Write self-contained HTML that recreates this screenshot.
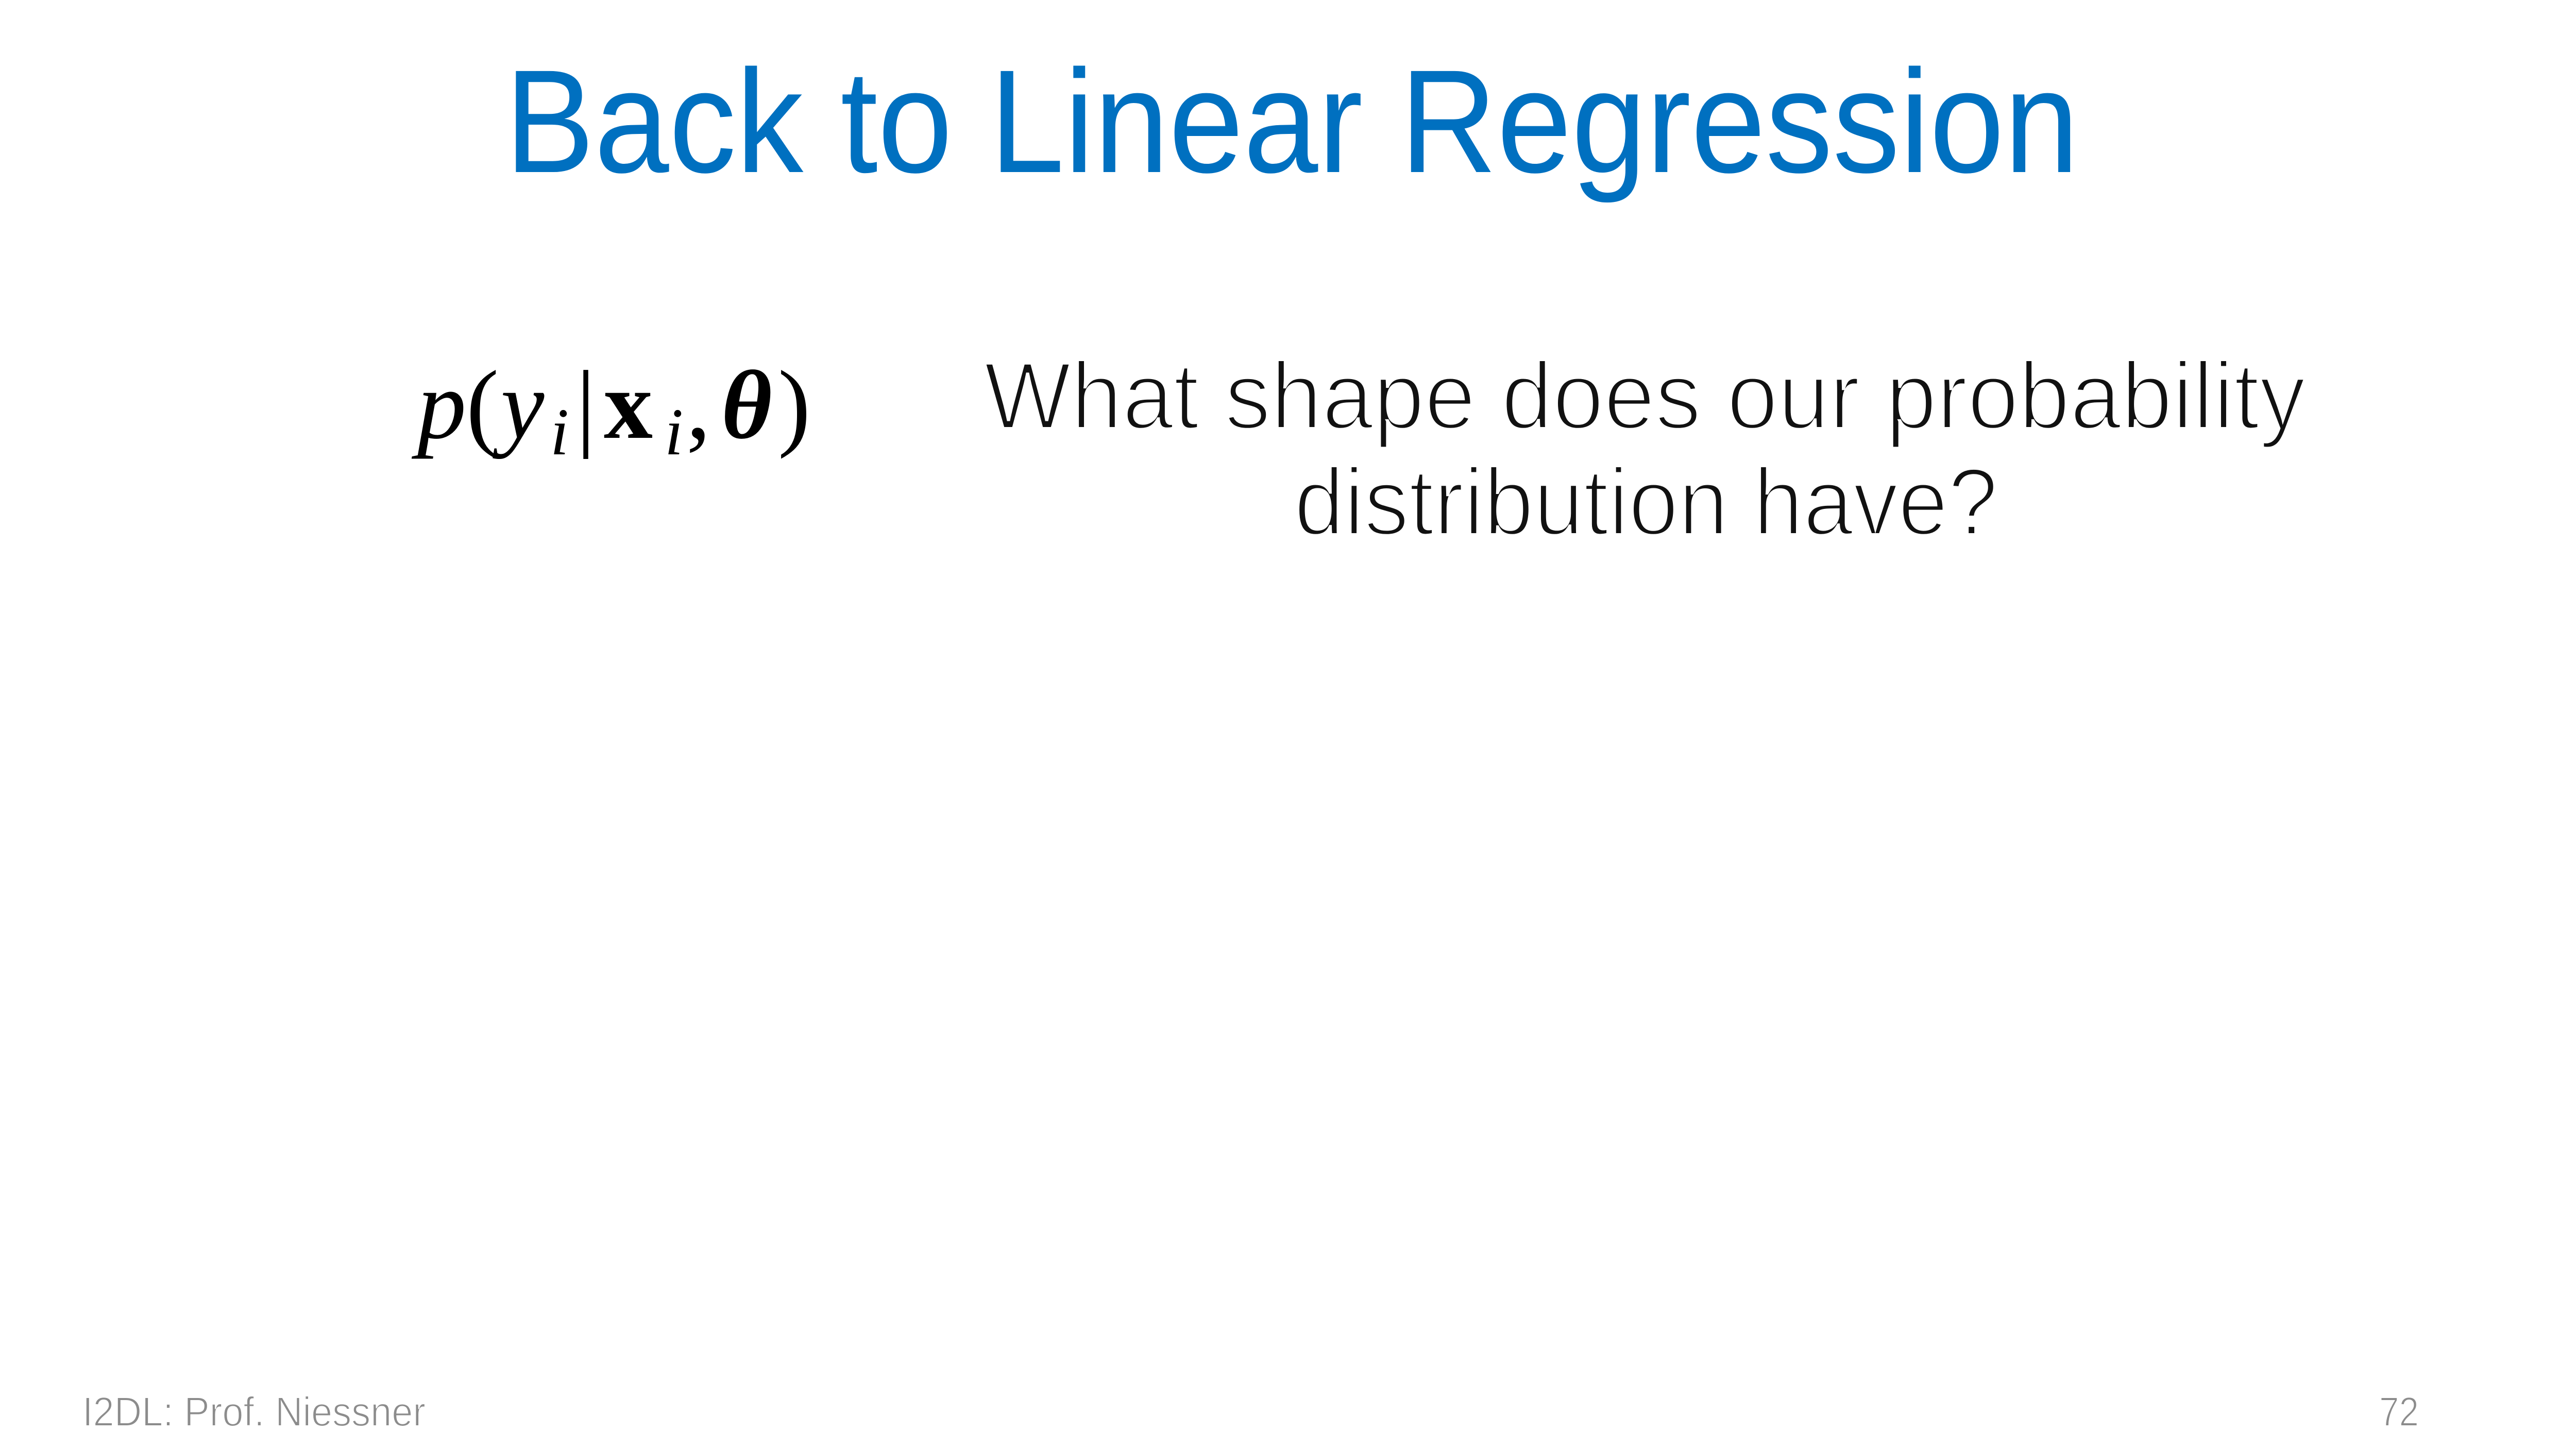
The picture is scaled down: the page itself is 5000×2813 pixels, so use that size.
<!DOCTYPE html>
<html><head><meta charset="utf-8"><style>html,body{margin:0;padding:0;background:#fff}svg{display:block}</style></head>
<body>
<svg width="5000" height="2813" viewBox="0 0 5000 2813" xmlns="http://www.w3.org/2000/svg">
<rect width="5000" height="2813" fill="#fff"/>
<text x="980" y="334" font-family="Liberation Sans, sans-serif" font-size="285" fill="#0070C0" textLength="3055" lengthAdjust="spacingAndGlyphs">Back to Linear Regression</text>
<g font-family="Liberation Serif, serif" font-size="190" fill="#000">
<text x="810" y="850" font-style="italic">p</text>
<text x="905" y="850">(</text>
<text x="972" y="850" font-style="italic">y</text>
<text x="1068" y="882" font-style="italic" font-size="130">i</text>
<text x="1118" y="850">|</text>
<text x="1172" y="850" font-weight="bold">x</text>
<text x="1290" y="882" font-style="italic" font-size="130">i</text>
<text x="1332" y="850">,</text>
<text x="1400" y="850" font-weight="bold" font-style="italic">θ</text>
<text x="1510" y="850">)</text>
</g>
<g font-family="Liberation Sans, sans-serif" font-size="185" fill="#111" stroke="#fff" stroke-width="6">
<text x="1910" y="832" textLength="2565" lengthAdjust="spacingAndGlyphs">What shape does our probability</text>
<text x="2512" y="1038" textLength="1366" lengthAdjust="spacingAndGlyphs">distribution have?</text>
</g>
<g font-family="Liberation Sans, sans-serif" font-size="80" fill="#8c8c8c" stroke="#fff" stroke-width="2">
<text x="160" y="2768" textLength="666" lengthAdjust="spacingAndGlyphs">I2DL: Prof. Niessner</text>
<text x="4618" y="2768" textLength="77" lengthAdjust="spacingAndGlyphs">72</text>
</g>
</svg>
</body></html>
